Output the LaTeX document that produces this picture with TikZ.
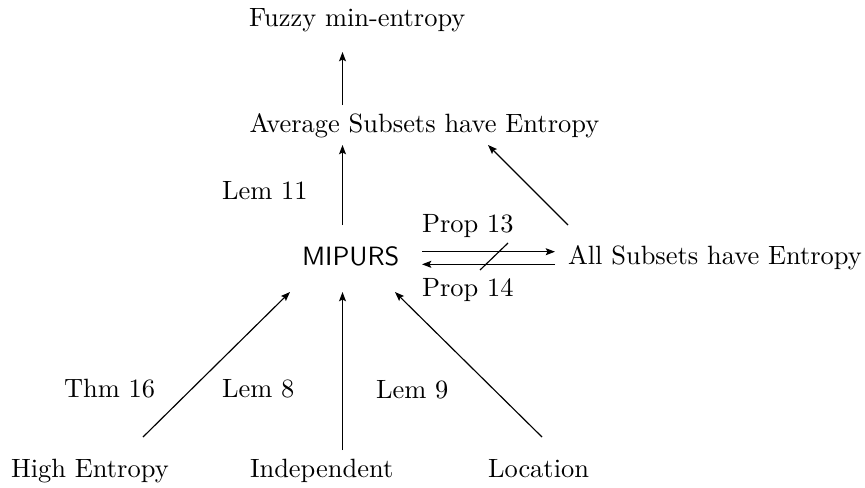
\documentclass[tikz,border=0pt]{standalone}
\usetikzlibrary{calc,arrows.meta}
\begin{document}
\begin{tikzpicture}[x=0.3876pt,y=-0.3876pt,
  lbl/.style={anchor=base west,inner sep=0pt,outer sep=0pt,font=\fontsize{10.25}{12}\selectfont},
  arr/.style={draw,line width=0.45pt,-{Stealth[length=3.6pt,width=2.7pt,inset=0.7pt]}},
  plain/.style={draw,line width=0.45pt}]
\useasboundingbox (0,0) rectangle (865,487);
% nodes
\node[lbl] (fuzzy) at (249,26.6) {Fuzzy min-entropy};
\node[lbl] (avg)   at (249.5,132.6) {Average Subsets have Entropy};
\node[lbl] (lem11) at (222,199.6) {Lem 11};
\node[lbl] (mip)   at (302,265) {\sffamily MIPURS};
\node[lbl] (all)   at (568,264.6) {All Subsets have Entropy};
\node[lbl] (p13)   at (422,232.6) {Prop 13};
\node[lbl] (p14)   at (422,296.6) {Prop 14};
\node[lbl] (thm16) at (64,397.6) {Thm 16};
\node[lbl] (lem8)  at (222,397.6) {Lem 8};
\node[lbl] (lem9)  at (376,398.3) {Lem 9};
\node[lbl] (high)  at (11,477.6) {High Entropy};
\node[lbl] (ind)   at (250,477.6) {Independent};
\node[lbl] (loc)   at (488,477.6) {Location};
% connectors
\draw[arr] ($(avg.base west)+(93,-27.6)$) -- ($(fuzzy.base west)+(93.5,25.4)$);
\draw[arr] ($(mip.base west)+(40.5,-40)$) -- ($(avg.base west)+(93,12.4)$);
\draw[arr] ($(all.base west)+(0,-39.6)$) -- ($(avg.base west)+(238.5,12.4)$);
\draw[arr] ($(mip.base west)+(120,-13.3)$) -- ($(all.base west)+(-13,-12.9)$);
\draw[arr] ($(all.base west)+(-13,-0.3)$) -- ($(mip.base west)+(120,-0.7)$);
\draw[plain] (480,270) -- (508,243);
\draw[arr] ($(high.base west)+(132,-40.6)$) -- ($(mip.base west)+(-12,27)$);
\draw[arr] ($(ind.base west)+(92.5,-27.6)$) -- ($(mip.base west)+(40.5,27)$);
\draw[arr] ($(loc.base west)+(54,-40.6)$) -- ($(mip.base west)+(93,27)$);
\end{tikzpicture}
\end{document}
